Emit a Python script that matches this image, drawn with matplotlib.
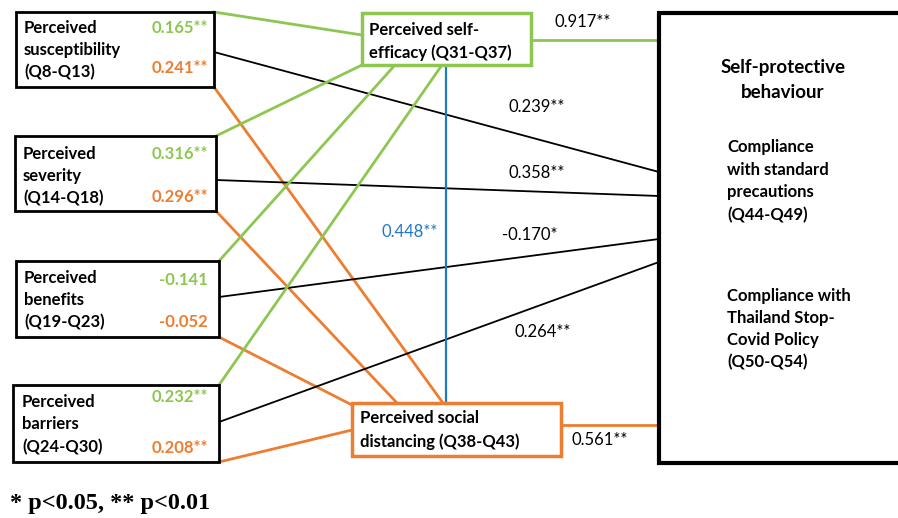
import matplotlib.pyplot as plt
from matplotlib.patches import Rectangle

# Predictor constructs (left column)
predictors = [
    ["Perceived", "susceptibility", "(Q8-Q13)"],
    ["Perceived", "severity", "(Q14-Q18)"],
    ["Perceived", "benefits", "(Q19-Q23)"],
    ["Perceived", "barriers", "(Q24-Q30)"],
]
# path coefficients: predictor -> self-efficacy, -> social distancing, -> behaviour
coef_efficacy = [0.165, 0.316, -0.141, 0.232]
stars_efficacy = ["**", "**", "", "**"]
coef_distancing = [0.241, 0.296, -0.052, 0.208]
stars_distancing = ["**", "**", "", "**"]
coef_behaviour = [0.239, 0.358, -0.170, 0.264]
stars_behaviour = ["**", "**", "*", "**"]

# mediators
coef_eff_behaviour, star_eff_behaviour = 0.917, "**"
coef_dist_behaviour, star_dist_behaviour = 0.561, "**"
coef_eff_dist, star_eff_dist = 0.448, "**"

GREEN = "#8dc751"
ORANGE = "#ed7d31"
BLUE = "#1f78c8"
FONT = "Lato"


def fmt(v, s):
    return f"{v:.3f}{s}"


fig = plt.figure(figsize=(8.98, 5.18), dpi=100)
ax = fig.add_axes([0, 0, 1, 1])
ax.set_xlim(0, 898)
ax.set_ylim(518, 0)
ax.axis("off")

# layout of the boxes (pixel space)
left_boxes = [(16, 12, 214, 87), (15, 136, 216, 211), (16, 261, 219, 337), (13, 385, 219, 462)]
eff_box = (362, 13, 531, 65)
dist_box = (352, 403, 561, 456)
beh_left, beh_top, beh_bottom = 659, 13, 463

# end points of paths
eff_ends = [(362, 35), (362, 65), (395, 65), (442, 65)]
dist_ends = [(443, 403), (397, 403), (352, 405), (352, 430)]
beh_ends = [172, 196, 239, 262]
beh_starts = [52, 180, 297, 422]

for i, (x0, y0, x1, y1) in enumerate(left_boxes):
    # green to self-efficacy from top-right corner
    ax.plot([x1, eff_ends[i][0]], [y0, eff_ends[i][1]], color=GREEN, lw=2, zorder=1)
    # orange to social distancing from bottom-right corner
    ax.plot([x1, dist_ends[i][0]], [y1, dist_ends[i][1]], color=ORANGE, lw=2, zorder=1)
    # black to behaviour box
    ax.plot([x1, beh_left], [beh_starts[i], beh_ends[i]], color="black", lw=1.3, zorder=1)

# mediator paths
ax.plot([eff_box[2], beh_left], [40, 40], color=GREEN, lw=2, zorder=1)
ax.plot([dist_box[2], beh_left], [425, 425], color=ORANGE, lw=2, zorder=1)
ax.plot([446, 446], [eff_box[3], dist_box[1]], color=BLUE, lw=1.6, zorder=1)

# boxes
for x0, y0, x1, y1 in left_boxes:
    ax.add_patch(Rectangle((x0, y0), x1 - x0, y1 - y0, fill=True, fc="white",
                           ec="black", lw=2, zorder=2))
for (x0, y0, x1, y1), c in [(eff_box, GREEN), (dist_box, ORANGE)]:
    ax.add_patch(Rectangle((x0, y0), x1 - x0, y1 - y0, fc="white", ec=c, lw=2.5, zorder=2))
ax.add_patch(Rectangle((beh_left, beh_top), 300, beh_bottom - beh_top, fc="white",
                       ec="black", lw=3, zorder=2))

fs = 12
txt = dict(fontfamily=FONT, fontweight="bold", fontsize=fs, zorder=3, va="center")

# predictor labels
line_y = [(28, 50, 72), (154, 176, 198), (278, 300, 322), (402, 424, 447)]
text_x = [24, 23, 24, 22]
green_y = [28, 154, 280, 397]
orange_y = [68, 197, 322, 448]
for i, lines in enumerate(predictors):
    for t, y in zip(lines, line_y[i]):
        ax.text(text_x[i], y, t, ha="left", **txt)
    ax.text(208, green_y[i], fmt(coef_efficacy[i], stars_efficacy[i]), ha="right",
            color=GREEN, **txt)
    ax.text(208, orange_y[i], fmt(coef_distancing[i], stars_distancing[i]), ha="right",
            color=ORANGE, **txt)

# mediator labels
ax.text(369, 30, "Perceived self-", ha="left", **txt)
ax.text(369, 53, "efficacy (Q31-Q37)", ha="left", **txt)
ax.text(360, 418, "Perceived social", ha="left", **txt)
ax.text(360, 442, "distancing (Q38-Q43)", ha="left", **txt)

# outcome labels
big = dict(txt, fontsize=13.5)
ax.text(783, 68, "Self-protective", ha="center", **big)
ax.text(783, 93, "behaviour", ha="center", **big)
for t, y in zip(["Compliance", "with standard", "precautions", "(Q44-Q49)"], [147, 170, 192, 215]):
    ax.text(727, y, t, ha="left", **txt)
for t, y in zip(["Compliance with", "Thailand Stop-", "Covid Policy", "(Q50-Q54)"], [296, 318, 340, 362]):
    ax.text(727, y, t, ha="left", **txt)

# path coefficient labels
plain = dict(fontfamily=FONT, fontsize=fs, zorder=3, va="center", ha="center")
beh_label_pos = [(537, 107), (537, 173), (530, 235), (543, 332)]
for (x, y), v, s in zip(beh_label_pos, coef_behaviour, stars_behaviour):
    ax.text(x, y, fmt(v, s), **plain)
ax.text(583, 22, fmt(coef_eff_behaviour, star_eff_behaviour), **plain)
ax.text(600, 440, fmt(coef_dist_behaviour, star_dist_behaviour), **plain)
ax.text(410, 232, fmt(coef_eff_dist, star_eff_dist), color=BLUE, **plain)

# significance note
ax.text(10, 504, "* p<0.05, ** p<0.01", fontfamily="Liberation Serif", fontweight="bold",
        fontsize=17.5, va="center", ha="left")

fig.savefig("out.png", dpi=100, facecolor="white")
